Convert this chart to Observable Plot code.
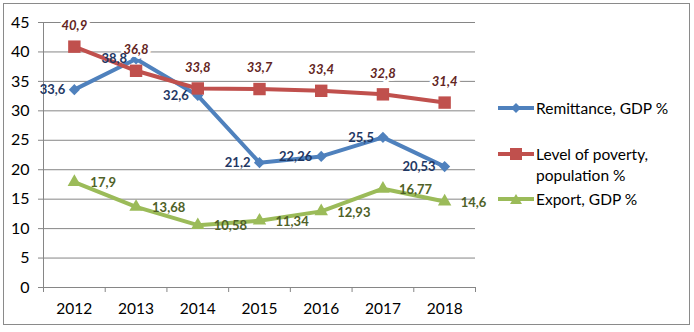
<!DOCTYPE html>
<html>
<head>
<meta charset="utf-8">
<script src="https://cdn.jsdelivr.net/npm/d3@7"></script>
<script src="https://cdn.jsdelivr.net/npm/@observablehq/plot@0.6"></script>
<style>
  html, body { margin: 0; padding: 0; background: #fff; }
  #wrap { position: relative; width: 694px; height: 332px; overflow: hidden; font-family: Lato, "Open Sans", sans-serif; }
  #border { position: absolute; left: 3px; top: 3px; width: 685px; height: 320px; border: 1px solid #8a8a8a; }
  #chart { position: absolute; left: 0; top: 0; }
  .leg { position: absolute; left: 498px; font-size: 15.5px; color: #000; line-height: 21px; }
  .leg svg { position: absolute; left: 0; top: 3px; }
  .leg span { position: absolute; left: 38px; top: 0; white-space: nowrap; }
</style>
</head>
<body>
<div id="wrap">
  <div id="border"></div>
  <div id="chart"></div>
  <div id="legend"></div>
</div>
<script>
const years = [2012, 2013, 2014, 2015, 2016, 2017, 2018];
const remittance = [33.6, 38.8, 32.6, 21.2, 22.26, 25.5, 20.53];
const poverty = [40.9, 36.8, 33.8, 33.7, 33.4, 32.8, 31.4];
const exportGdp = [17.9, 13.68, 10.58, 11.34, 12.93, 16.77, 14.6];
const seriesNames = ["Remittance, GDP %", "Level of poverty, population %", "Export, GDP %"];
const yTicks = [0, 5, 10, 15, 20, 25, 30, 35, 40, 45];

const colors = { line: ["#4F81BD", "#C0504D", "#9BBB59"], label: ["#1F3864", "#632523", "#4F6228"] };
const fmt = v => String(v).replace(".", ",");

const rows = (vals, s) => years.map((y, i) => ({ year: y, value: vals[i], series: s, label: fmt(vals[i]) }));
const remRows = rows(remittance, seriesNames[0]);
const povRows = rows(poverty, seriesNames[1]);
const expRows = rows(exportGdp, seriesNames[2]);

const xDomain = [years[0] - 0.5, years[years.length - 1] + 0.5];
const boundaries = [...years.map(y => y - 0.5), years[years.length - 1] + 0.5];

const font = "Lato, 'Open Sans', sans-serif";

const chart = Plot.plot({
  width: 694,
  height: 332,
  marginLeft: 43,
  marginRight: 219,
  marginTop: 22,
  marginBottom: 45,
  style: { fontFamily: font, background: "transparent", overflow: "visible" },
  x: { domain: xDomain },
  y: { domain: [0, 45] },
  marks: [
    Plot.gridY(yTicks, { stroke: "#868686", strokeOpacity: 1, strokeWidth: 1 }),
    Plot.ruleX([xDomain[0]], { stroke: "#868686", strokeWidth: 1 }),
    Plot.ruleY([0], { stroke: "#868686", strokeWidth: 1 }),
    Plot.axisY(yTicks, { tickSize: 5, tickPadding: 9, stroke: "#868686", fill: "#000", fontSize: 16, tickFormat: d => d, label: null }),
    Plot.axisX(boundaries, { tickSize: 5, stroke: "#868686", tickFormat: () => "", label: null }),
    Plot.axisX(years, { tickSize: 0, tickPadding: 15, fill: "#000", fontSize: 15.5, tickFormat: d => String(d), label: null }),
    // Remittance
    Plot.line(remRows, { x: "year", y: "value", stroke: colors.line[0], strokeWidth: 4 }),
    Plot.dot(remRows, { x: "year", y: "value", symbol: "diamond2", r: 5, fill: colors.line[0], stroke: "none" }),
    // Poverty
    Plot.line(povRows, { x: "year", y: "value", stroke: colors.line[1], strokeWidth: 4 }),
    Plot.dot(povRows, { x: "year", y: "value", symbol: "square", r: 7, fill: colors.line[1], stroke: "none" }),
    // Export
    Plot.line(expRows, { x: "year", y: "value", stroke: colors.line[2], strokeWidth: 4 }),
    Plot.dot(expRows, { x: "year", y: "value", symbol: "triangle", r: 5, fill: colors.line[2], stroke: "none" }),
    // Labels
    Plot.text(povRows, { x: "year", y: "value", text: "label", textAnchor: "middle", dx: 0, dy: -21, fill: colors.label[1], fontWeight: "bold", fontStyle: "italic", fontSize: 13, stroke: "#fff", strokeWidth: 6 }),
    Plot.text(remRows, { x: "year", y: "value", text: "label", textAnchor: "end", dx: -9, dy: 0, fill: colors.label[0], fontWeight: "bold", fontSize: 13 }),
    Plot.text(expRows, { x: "year", y: "value", text: "label", textAnchor: "start", dx: 16, dy: 1, fill: colors.label[2], fontWeight: "bold", fontSize: 13 })
  ]
});
document.getElementById("chart").appendChild(chart);

// Legend
const legendTops = [98, 144, 189];
const legendSymbols = [
  '<polygon points="18,-5 23,0 18,5 13,0" />',
  '<rect x="12" y="-6" width="12" height="12" />',
  '<polygon points="18,-5 24,5 12,5" />'
];
const legend = document.getElementById("legend");
seriesNames.forEach((name, i) => {
  const d = document.createElement("div");
  d.className = "leg";
  d.style.top = legendTops[i] + "px";
  const lines = i === 1 ? "Level of poverty,<br>population %" : name;
  d.innerHTML = `<svg width="36" height="14" viewBox="0 -7 36 14" style="overflow:visible"><line x1="0" x2="36" y1="0" y2="0" stroke="${colors.line[i]}" stroke-width="4"/><g fill="${colors.line[i]}">${legendSymbols[i]}</g></svg><span>${lines}</span>`;
  legend.appendChild(d);
});
</script>
</body>
</html>
